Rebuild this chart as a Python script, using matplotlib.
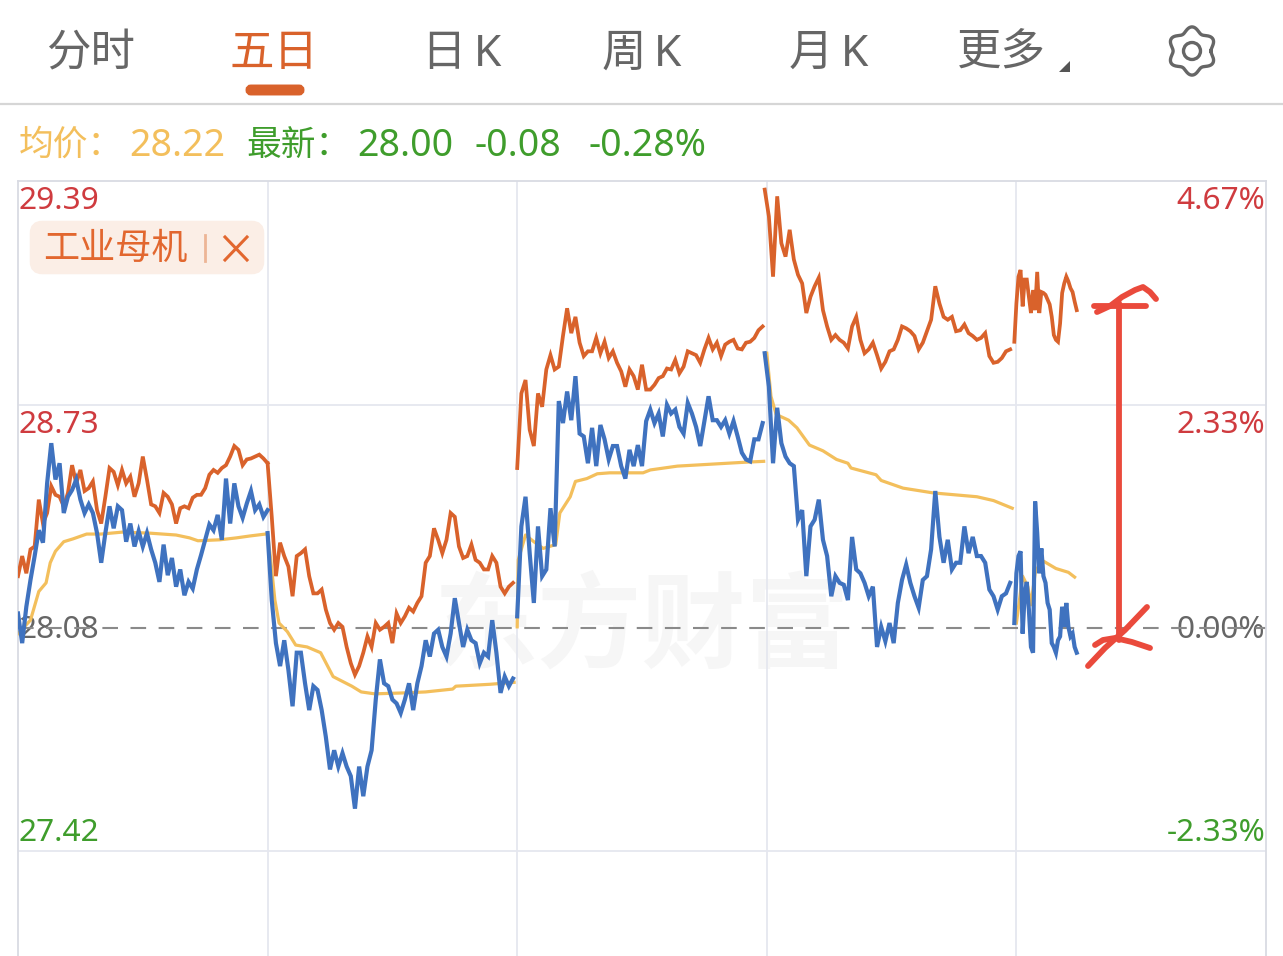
import numpy as np
import matplotlib
matplotlib.use("Agg")
import matplotlib.pyplot as plt
from matplotlib.patches import FancyBboxPatch, Polygon, Circle

plt.rcParams['font.family'] = ['Noto Sans', 'Noto Sans CJK SC', 'DejaVu Sans']

TABS = ["分时", "五日", "日\u2009K", "周\u2009K", "月\u2009K", "更多"]
LEFT_LABELS = ["29.39", "28.73", "28.08", "27.42"]
RIGHT_LABELS = ["4.67%", "2.33%", "0.00%", "-2.33%"]
DAY_LEN = 240
DAY_START = [0, 240, 480, 718, 958]
DAY_STEP = [4, 4, 4, 4, 2]

# percent change against the 28.08 reference price
blue_d1 = [.15,-.16,.22,.50,.75,1.02,.89,1.51,1.93,1.55,1.72,1.20,1.37,1.44,1.55,1.34,1.20,1.29,1.20,.99,.68,.99,1.27,1.04,1.27,1.23,.90,1.09,.85,1.01,.85,.99,.82,.68,.48,.87,.55,.73,.43,.61,.34,.48,.41,.61,.76,.92,1.08,1.02,1.18,.92,1.56,1.09,1.51,1.27,1.15,1.30,1.43,1.23,1.29,1.16,1.23]
blue_d2 = [.99,.29,-.16,-.40,-.13,-.44,-.82,-.26,-.26,-.58,-.86,-.61,-.65,-.86,-1.14,-1.48,-1.28,-1.45,-1.31,-1.45,-1.55,-1.89,-1.45,-1.76,-1.45,-1.28,-.75,-.33,-.58,-.61,-.75,-.79,-.89,-.75,-.58,-.86,-.58,-.40,-.13,-.30,-.06,-.02,-.20,-.30,-.06,.31,.05,-.20,-.02,-.13,-.16,-.37,-.26,-.30,.08,-.26,-.68,-.51,-.61,-.53]
blue_d3 = [.12,1.06,1.37,.78,.26,1.06,.54,.61,1.25,.85,2.37,2.14,2.47,2.17,2.63,2.03,2.00,1.72,2.09,1.69,2.12,1.97,1.76,1.90,1.90,1.69,1.56,1.86,1.69,1.91,1.69,2.16,2.28,2.14,2.24,2.00,2.33,2.24,2.28,2.10,2.03,2.35,2.24,2.10,1.90,2.16,2.42,2.17,2.17,2.10,2.17,2.03,2.16,2.00,1.83,1.76,1.74,1.97,1.97,2.14]
blue_d4 = [2.87,2.52,1.72,2.30,1.93,1.79,1.72,1.69,1.13,1.23,.54,1.06,1.13,1.34,.92,.75,.33,.54,.47,.45,.29,.95,.61,.57,.47,.33,.43,-.20,.01,-.14,.05,-.16,.26,.50,.66,.47,.33,.21,.50,.54,.82,1.43,.95,.68,.92,.61,.68,.68,1.06,.78,.95,.75,.75,.68,.40,.33,.19,.33,.36,.47]
blue_d5 = [.05,.57,.75,.80,-.06,.36,.48,.19,-.20,-.26,1.32,.99,.57,.83,.54,.47,.26,.19,-.16,-.20,-.26,-.13,-.09,.22,.01,.26,.01,-.09,-.06,-.20,-.26]

orange_d1 = [.54,.75,.57,.82,.85,1.34,1.09,1.20,1.48,1.39,1.37,1.27,1.41,1.70,1.51,1.65,1.43,1.46,1.53,1.23,1.09,1.37,1.67,1.63,1.49,1.65,1.51,1.58,1.37,1.51,1.79,1.55,1.29,1.27,1.20,1.41,1.37,1.29,1.09,1.25,1.27,1.25,1.36,1.39,1.39,1.46,1.60,1.65,1.62,1.67,1.70,1.79,1.90,1.86,1.70,1.76,1.77,1.79,1.81,1.77,1.72]
orange_d2 = [1.72,1.16,.54,.89,.75,.64,.33,.75,.78,.82,.54,.36,.36,.40,.19,.05,-.02,.05,.01,-.20,-.37,-.49,-.40,-.26,-.09,-.20,.05,-.02,.01,.05,-.16,.15,.05,.12,.21,.17,.26,.33,.68,.75,1.04,.92,.78,.92,1.20,1.16,.85,.73,.75,.87,.71,.68,.61,.61,.75,.68,.43,.36,.43,.47]
orange_d3 = [1.67,2.45,2.59,2.07,1.90,2.45,2.31,2.70,2.85,2.70,2.73,3.05,3.34,3.08,3.25,2.98,2.84,2.89,2.89,3.03,2.87,2.99,2.82,2.89,2.77,2.68,2.52,2.70,2.63,2.49,2.75,2.49,2.49,2.54,2.61,2.63,2.71,2.70,2.80,2.66,2.73,2.89,2.87,2.85,2.77,2.91,3.03,2.91,2.98,2.84,2.96,2.99,3.01,2.92,2.91,2.98,2.99,3.03,3.11,3.15]
orange_d4 = [4.58,4.30,3.67,4.51,4.02,3.88,4.16,3.85,3.69,3.60,3.29,3.46,3.57,3.66,3.32,3.15,3.01,3.06,3.01,2.98,2.92,3.15,3.25,3.01,2.87,2.91,2.98,2.85,2.71,2.78,2.89,2.91,3.01,3.15,3.13,3.10,3.05,2.91,2.98,3.10,3.22,3.57,3.39,3.25,3.22,3.25,3.10,3.11,3.17,3.08,3.05,3.01,3.03,3.08,2.84,2.77,2.78,2.82,2.89,2.91]
orange_d5 = [2.99,3.39,3.67,3.74,3.36,3.64,3.64,3.46,3.29,3.53,3.32,3.72,3.29,3.51,3.50,3.48,3.43,3.38,3.25,3.06,3.01,2.99,3.18,3.50,3.60,3.67,3.62,3.55,3.51,3.41,3.32]

avg_m_d1 = [0,12,20,27,31,36,44,53,66,80,100,126,152,165,173,194,210,223,238]
avg_d1 = [-.06,.08,.38,.47,.68,.80,.90,.93,.98,.98,1.00,.99,.97,.94,.91,.92,.94,.96,.98]
avg_m_d2 = [0,3,7,11,19,27,38,51,63,81,90,103,132,152,178,181,214,237]
avg_d2 = [.98,.71,.29,.05,-.04,-.18,-.20,-.26,-.51,-.61,-.67,-.69,-.68,-.67,-.64,-.61,-.59,-.57]
avg_m_d3 = [0,1,8,16,25,37,41,51,56,67,77,89,121,128,154,186,218,237]
avg_d3 = [.01,.71,.97,.90,.83,.87,1.20,1.37,1.53,1.56,1.61,1.62,1.62,1.65,1.69,1.71,1.73,1.74]
avg_m_d4 = [0,4,9,21,29,41,54,67,78,81,105,110,131,160,202,218,236]
avg_d4 = [2.87,2.42,2.23,2.17,2.09,1.91,1.85,1.76,1.72,1.67,1.60,1.54,1.46,1.41,1.37,1.33,1.25]
avg_m_d5 = [0,6,11,14,18,24,38,50,56]
avg_d5 = [.05,.54,.43,.24,.57,.71,.62,.58,.53]

BLUE = "#3f72bf"
ORANGE = "#d9622b"
YELLOW = "#f3bf5c"
RED = "#cf3b3f"
GREEN = "#3f9d2c"
GREY = "#666666"
ACCENT = "#ea4a3c"

W, H = 1283, 956
fig = plt.figure(figsize=(W / 100, H / 100), dpi=100, facecolor="white")

# page furniture, addressed in image pixels
ui = fig.add_axes([0, 0, 1, 1], zorder=1)
ui.set_xlim(0, W)
ui.set_ylim(H, 0)
ui.axis("off")

# price chart
ax = fig.add_axes([18 / W, 0, 1248 / W, 775 / H], zorder=2)
ax.patch.set_alpha(0)
ax.set_xlim(0, DAY_LEN * 5)
ax.set_ylim(-3.43, 4.67)
ax.set_xticks([DAY_LEN * i for i in range(1, 5)])
ax.set_yticks([-2.33, 2.33])
ax.tick_params(length=0, labelbottom=False, labelleft=False)
ax.grid(True, color="#e5e7ef", lw=1.3)
ax.set_axisbelow(True)
for name, sp in ax.spines.items():
    sp.set_color("#d9dbe3")
    sp.set_linewidth(1.3)
ax.spines["bottom"].set_visible(False)

ax.axhline(0, color="#8a8a8a", lw=1.5, dashes=(7.5, 6), zorder=1.5)

for m, v, d in zip([avg_m_d1, avg_m_d2, avg_m_d3, avg_m_d4, avg_m_d5],
                   [avg_d1, avg_d2, avg_d3, avg_d4, avg_d5], range(5)):
    ax.plot(np.array(m) + DAY_LEN * d, v, color=YELLOW, lw=2.3, zorder=3, solid_joinstyle="round")
for d, v in enumerate([orange_d1, orange_d2, orange_d3, orange_d4, orange_d5]):
    ax.plot(DAY_START[d] + np.arange(len(v)) * DAY_STEP[d], v, color=ORANGE, lw=2.7, zorder=4, solid_joinstyle="miter")
for d, v in enumerate([blue_d1, blue_d2, blue_d3, blue_d4, blue_d5]):
    ax.plot(DAY_START[d] + np.arange(len(v)) * DAY_STEP[d], v, color=BLUE, lw=3.0, zorder=5, solid_joinstyle="miter")

# tabs
tab_x = [46, 230, 422, 602, 789, 957]
for i, (t, x) in enumerate(zip(TABS, tab_x)):
    ui.text(x, 55, t, fontsize=32, color=ORANGE if i == 1 else GREY, va="center", ha="left")
ui.add_patch(FancyBboxPatch((249, 88), 52, 4, boxstyle="round,pad=0,rounding_size=2",
                            mutation_aspect=1, fc=ORANGE, ec=ORANGE, lw=5))
ui.add_patch(Polygon([[1070, 61], [1070, 72], [1059, 72]], fc="#555555", ec="none"))
ui.plot([0, W], [104, 104], color="#d6d6d6", lw=1.6)

# gear icon
th = np.linspace(0, 2 * np.pi, 400)
r = 21.5 + 2.6 * np.cos(6 * (th + np.pi / 2))
ui.plot(1192 + r * np.cos(th), 51 + r * np.sin(th), color=GREY, lw=2.4)
ui.add_patch(Circle((1192, 51), 8.5, fc="none", ec=GREY, lw=2.4))

# quote line
for txt, x, c, fs in [("均价：", 19, YELLOW, 25), ("28.22", 129, YELLOW, 27), ("最新：", 246, GREEN, 25),
                      ("28.00", 357, GREEN, 27), ("-0.08", 475, GREEN, 27), ("-0.28%", 588, GREEN, 27)]:
    ui.text(x, 146, txt, fontsize=fs, color=c, va="center", ha="left")

# axis labels
label_y = [201, 425, 630, 833]
left_c = [RED, RED, GREY, GREEN]
right_c = [RED, RED, GREY, GREEN]
for t, y, c in zip(LEFT_LABELS, label_y, left_c):
    ui.text(19, y, t, fontsize=22.8, color=c, va="center", ha="left", zorder=6)
for t, y, c in zip(RIGHT_LABELS, label_y, right_c):
    ui.text(1265, y, t, fontsize=22.8, color=c, va="center", ha="right", zorder=6)

# tag
ui.add_patch(FancyBboxPatch((36, 227), 222, 41, boxstyle="round,pad=0,rounding_size=6",
                            fc="#fbeee6", ec="#fbeee6", lw=9))
ui.text(43, 250, "工业母机", fontsize=26, color="#e2672f", va="center", ha="left")
ui.plot([205, 205], [235, 261], color="#edb596", lw=2)
ui.plot([225, 247], [237, 260], color="#e2672f", lw=2.2)
ui.plot([247, 225], [237, 260], color="#e2672f", lw=2.2)

# watermark
ui.text(642, 633, "东方财富", fontsize=75, fontweight="bold", color="#f6f6f6", va="center", ha="center")

# hand-drawn annotation on top of the chart
hand = dict(color=ACCENT, lw=4.2, solid_capstyle="round", transform=ui.transData, zorder=8, clip_on=False)
ax.plot([1119, 1119], [303, 640], **hand)
ax.plot([1094, 1146], [306, 306], **hand)
ax.plot([1097, 1110, 1122, 1135, 1143, 1150, 1156], [312, 306, 297, 290, 287, 292, 299], **hand)
ax.plot([1088, 1105, 1125, 1147], [666, 648, 630, 607], **hand)
ax.plot([1095, 1103, 1115, 1132, 1150], [645, 640, 638, 642, 648], **hand)

fig.savefig("out.png", dpi=100)
